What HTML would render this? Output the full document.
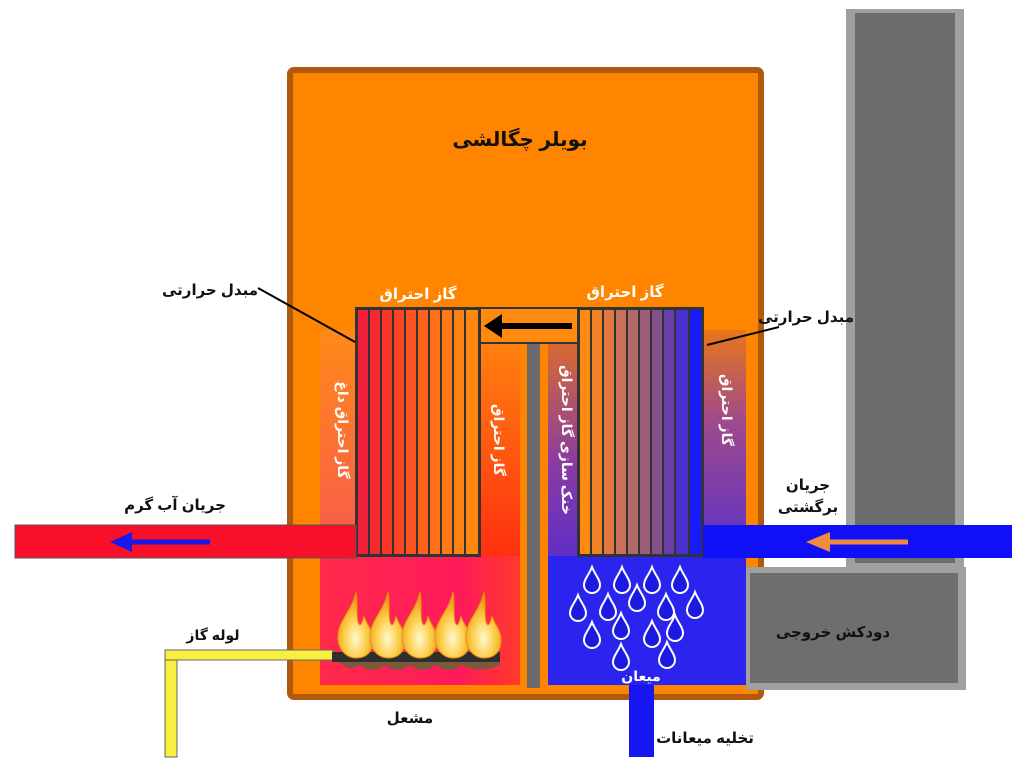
<!DOCTYPE html>
<html><head><meta charset="utf-8"><style>
html,body{margin:0;padding:0;background:#fff;width:1024px;height:773px;overflow:hidden}
text{font-family:"Liberation Sans","DejaVu Sans",sans-serif;font-weight:bold}
</style></head><body>
<svg width="1024" height="773" viewBox="0 0 1024 773" xmlns="http://www.w3.org/2000/svg">
<defs>
<linearGradient id="lg" x1="0" y1="0" x2="0" y2="1">
<stop offset="0" stop-color="#ff8a1a"/><stop offset="0.5" stop-color="#f8604a"/><stop offset="1" stop-color="#ff2a3a"/></linearGradient>
<linearGradient id="mid" x1="0" y1="0" x2="0" y2="1">
<stop offset="0" stop-color="#ff8010"/><stop offset="1" stop-color="#ff3010"/></linearGradient>
<linearGradient id="rg" x1="0" y1="0" x2="0" y2="1">
<stop offset="0" stop-color="#d86a30"/><stop offset="0.35" stop-color="#8a3ca0"/><stop offset="0.75" stop-color="#4a28d8"/><stop offset="1" stop-color="#2a20f0"/></linearGradient>
<linearGradient id="rg2" x1="0" y1="0" x2="0" y2="1">
<stop offset="0" stop-color="#e8761a"/><stop offset="0.4" stop-color="#a04a8a"/><stop offset="1" stop-color="#5a30c8"/></linearGradient>
<linearGradient id="fire" x1="0" y1="0" x2="1" y2="0">
<stop offset="0" stop-color="#ff2a4a"/><stop offset="0.7" stop-color="#ff1a5a"/><stop offset="1" stop-color="#ff3a2a"/></linearGradient>
<radialGradient id="fl" cx="0.5" cy="0.7" r="0.6"><stop offset="0" stop-color="#fff8d0"/><stop offset="0.5" stop-color="#ffd050"/><stop offset="1" stop-color="#e89a10"/></radialGradient>
</defs>
<!-- chimney -->
<rect x="846" y="9" width="118" height="560" fill="#a0a0a0"/>
<rect x="855" y="13" width="100" height="550" fill="#6c6c6c"/>
<!-- boiler -->
<rect x="290" y="70" width="471" height="627" rx="4" fill="#ff8500" stroke="#b05a10" stroke-width="6"/>
<text x="520" y="146" font-size="20" fill="#111" text-anchor="middle">بویلر چگالشی</text>
<rect x="746" y="567" width="220" height="123" fill="#a0a0a0"/>
<rect x="750" y="573" width="208" height="110" fill="#6e6e6e"/>
<text x="833" y="637" font-size="15" fill="#111" text-anchor="middle">دودکش خروجی</text>
<!-- left chamber -->
<rect x="320" y="330" width="200" height="355" fill="url(#lg)" opacity="0.9"/>
<rect x="320" y="556" width="200" height="129" fill="url(#fire)"/>
<rect x="480" y="343" width="40" height="213" fill="url(#mid)"/>
<!-- right chamber -->
<rect x="548" y="343" width="198" height="342" fill="url(#rg)"/>
<rect x="703" y="330" width="43" height="226" fill="url(#rg2)"/>
<rect x="548" y="556" width="198" height="129" fill="#2a24ee"/>
<!-- gray pole -->
<rect x="527" y="343" width="13" height="345" fill="#6a6a6a"/>
<!-- top connector -->
<rect x="480" y="308" width="98" height="35" fill="#ff8a10" stroke="#333" stroke-width="2"/>
<line x1="572" y1="326" x2="500" y2="326" stroke="#000" stroke-width="6"/>
<polygon points="484,326 502,314 502,338" fill="#000"/>
<!-- left HX -->
<g stroke="#333" stroke-width="2">
<rect x="356" y="308" width="124" height="248" fill="#ff8a10"/>
<rect x="357" y="309" width="12" height="246" fill="#f0203a"/>
<rect x="369" y="309" width="12" height="246" fill="#f52a30"/>
<rect x="381" y="309" width="12" height="246" fill="#f8362a"/>
<rect x="393" y="309" width="12" height="246" fill="#fb4424"/>
<rect x="405" y="309" width="12" height="246" fill="#fd5420"/>
<rect x="417" y="309" width="12" height="246" fill="#fe621c"/>
<rect x="429" y="309" width="12" height="246" fill="#ff7018"/>
<rect x="441" y="309" width="12" height="246" fill="#ff7a16"/>
<rect x="453" y="309" width="12" height="246" fill="#ff8214"/>
<rect x="465" y="309" width="14" height="246" fill="#ff8812"/>
</g>
<!-- right HX -->
<g stroke="#333" stroke-width="2">
<rect x="578" y="308" width="125" height="248" fill="#ff8a10"/>
<rect x="579" y="309" width="12" height="246" fill="#ff8a12"/>
<rect x="591" y="309" width="12" height="246" fill="#f28224"/>
<rect x="603" y="309" width="12" height="246" fill="#e07840"/>
<rect x="615" y="309" width="12" height="246" fill="#c8705a"/>
<rect x="627" y="309" width="12" height="246" fill="#b06a6a"/>
<rect x="639" y="309" width="12" height="246" fill="#9a5e78"/>
<rect x="651" y="309" width="12" height="246" fill="#84508a"/>
<rect x="663" y="309" width="12" height="246" fill="#6a40a8"/>
<rect x="675" y="309" width="14" height="246" fill="#4a30cc"/>
<rect x="689" y="309" width="13" height="246" fill="#1a1aff"/>
</g>
<!-- pipes -->
<rect x="15" y="525" width="341" height="33" fill="#f8102a" stroke="#555" stroke-width="1"/>
<line x1="210" y1="542" x2="128" y2="542" stroke="#1a1ae8" stroke-width="5"/>
<polygon points="110,542 132,532 132,552" fill="#1a1ae8"/>
<text x="175" y="510" font-size="15" fill="#111" text-anchor="middle">جریان آب گرم</text>
<rect x="703" y="525" width="309" height="33" fill="#1010f8"/>
<line x1="908" y1="542" x2="828" y2="542" stroke="#f08a40" stroke-width="5"/>
<polygon points="806,542 830,532 830,552" fill="#f08a40"/>
<text x="808" y="490" font-size="15" fill="#111" text-anchor="middle">جریان</text>
<text x="808" y="512" font-size="15" fill="#111" text-anchor="middle">برگشتی</text>
<!-- labels -->
<text x="418" y="299" font-size="15" fill="#fff" text-anchor="middle">گاز احتراق</text>
<text x="625" y="297" font-size="15" fill="#fff" text-anchor="middle">گاز احتراق</text>
<text font-size="14" fill="#fff" text-anchor="middle" transform="translate(338,430) rotate(90)">گاز احتراق داغ</text>
<text font-size="14" fill="#fff" text-anchor="middle" transform="translate(494,440) rotate(90)">گاز احتراق</text>
<text font-size="14" fill="#fff" text-anchor="middle" transform="translate(562,440) rotate(90)">خنک سازی گاز احتراق</text>
<text font-size="14" fill="#fff" text-anchor="middle" transform="translate(722,410) rotate(90)">گاز احتراق</text>
<text x="210" y="295" font-size="15" fill="#111" text-anchor="middle">مبدل حرارتی</text>
<line x1="258" y1="288" x2="355" y2="342" stroke="#000" stroke-width="2"/>
<text x="806" y="322" font-size="15" fill="#111" text-anchor="middle">مبدل حرارتی</text>
<line x1="779" y1="327" x2="707" y2="345" stroke="#000" stroke-width="2"/>
<!-- drain -->
<rect x="629" y="685" width="25" height="72" fill="#1616f0"/>
<text x="641" y="681" font-size="14" fill="#fff" text-anchor="middle">میعان</text>
<text x="705" y="743" font-size="15" fill="#111" text-anchor="middle">تخلیه میعانات</text>
<!-- drops -->
<g fill="#1a1ae0" stroke="#fff" stroke-width="2">
<path id="d" d="M0,-14 C3,-6 8,-2 8,4 A8,8 0 0 1 -8,4 C-8,-2 -3,-6 0,-14Z" transform="translate(592,581)"/>
<use href="#d" x="30" y="0"/><use href="#d" x="60" y="0"/><use href="#d" x="88" y="0"/>
<use href="#d" x="-14" y="28"/><use href="#d" x="16" y="27"/><use href="#d" x="45" y="18"/><use href="#d" x="74" y="27"/><use href="#d" x="103" y="25"/>
<use href="#d" x="0" y="55"/><use href="#d" x="29" y="46"/><use href="#d" x="60" y="54"/><use href="#d" x="83" y="48"/>
<use href="#d" x="29" y="77"/><use href="#d" x="75" y="75"/>
</g>
<!-- gas pipe -->
<rect x="165" y="650" width="12" height="107" fill="#f8f040" stroke="#666" stroke-width="1"/>
<rect x="165" y="650" width="168" height="10" fill="#f8f040" stroke="#666" stroke-width="1"/>
<text x="213" y="640" font-size="14" fill="#111" text-anchor="middle">لوله گاز</text>
<text x="410" y="723" font-size="15" fill="#111" text-anchor="middle">مشعل</text>
<!-- burner -->
<path d="M340,663 Q350,672 360,665 Q372,675 385,665 Q398,675 410,665 Q422,675 436,665 Q448,675 462,665 Q478,674 500,665 L500,662 L340,662Z" fill="#7a5a3a"/>
<rect x="332" y="652" width="168" height="10" fill="#2e2e2e"/>
<g fill="url(#fl)" stroke="#e89010" stroke-width="1">
<path id="f" d="M0,-60 C-4,-40 -20,-30 -18,-12 C-16,2 -6,6 0,6 C10,6 18,0 17,-14 C16,-24 10,-28 8,-36 C6,-28 4,-24 2,-30 C0,-40 2,-50 0,-60Z" transform="translate(356,652)"/>
<use href="#f" x="32"/><use href="#f" x="64"/><use href="#f" x="97"/><use href="#f" x="128"/>
</g>
</svg>
</body></html>
